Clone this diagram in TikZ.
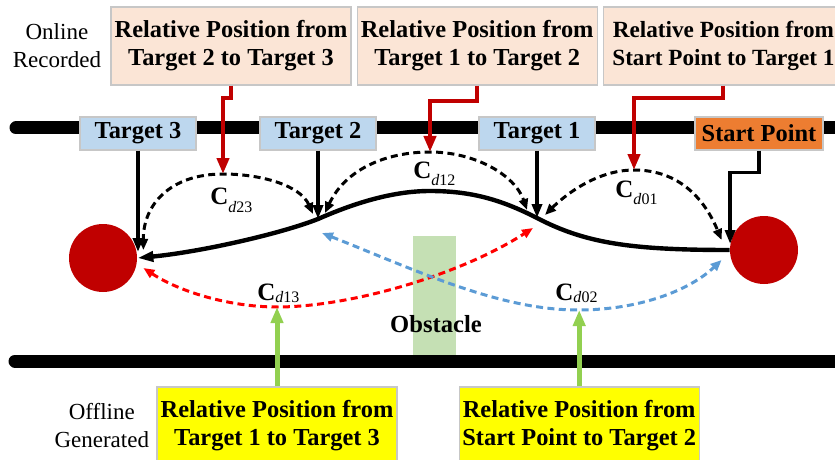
\documentclass[tikz,border=0pt]{standalone}
\usepackage{fontspec}
\setmainfont{Liberation Serif}
\usetikzlibrary{positioning,calc,arrows.meta}
\definecolor{peach}{HTML}{FBE5D6}
\definecolor{skyb}{HTML}{BDD7EE}
\definecolor{orng}{HTML}{ED7D31}
\definecolor{dred}{HTML}{C00000}
\definecolor{lred}{HTML}{FF0000}
\definecolor{lblue}{HTML}{5B9BD5}
\definecolor{lgreen}{HTML}{92D050}
\definecolor{obsg}{HTML}{C5E0B4}
\definecolor{yell}{HTML}{FFFF00}
\newcommand\clab[2][3.5pt]{\textbf{C}\raisebox{-#1}{\fontsize{8}{9}\selectfont\textit{d}#2}}
\tikzset{
  rp/.style={rectangle, minimum width=120pt, minimum height=39pt, text centered, align=center, draw=black!22, line width=0.6pt, fill=peach, font=\fontsize{12.2}{14}\selectfont\bfseries, inner sep=0pt},
  gp/.style={rp, fill=yell},
  tg/.style={rectangle, minimum width=58pt, minimum height=16.5pt, text centered, draw=black!22, line width=0.6pt, fill=skyb, font=\fontsize{12.2}{14}\selectfont\bfseries, inner sep=0pt},
  sp/.style={tg, minimum width=64pt, fill=orng},
  wh/.style={circle, minimum size=34pt, fill=dred, inner sep=0pt},
  obst/.style={rectangle, minimum width=21.5pt, minimum height=59.5pt, fill=obsg, inner sep=0pt},
  side/.style={align=center, font=\fontsize{11.5}{14}\selectfont, inner sep=0pt},
  cdl/.style={anchor=base west, inner sep=0pt, font=\fontsize{12.5}{14}\selectfont},
  road/.style={line width=6.5pt, line cap=round},
  traj/.style={line width=2.2pt, -{Triangle[length=8pt,width=5pt]}},
  bar/.style={line width=1.8pt, -{Triangle[length=7pt,width=5pt]}},
  rar/.style={draw=dred, line width=2pt, -{Triangle[length=8pt,width=6pt]}},
  gar/.style={draw=lgreen, line width=2.5pt, -{Triangle[length=8pt,width=6pt]}},
  dsh/.style={line width=1.5pt, dash pattern=on 3.5pt off 2.2pt, {Triangle[length=5.5pt,width=4.5pt]}-{Triangle[length=5.5pt,width=4.5pt]}}
}

\begin{document}
\begin{tikzpicture}[x=0.5pt, y=-0.5pt]
	\useasboundingbox (0,0) rectangle (835,460);
	\draw[road] (16,128) -- (850,128);
	\draw[road] (15,361) -- (850,361);
	\node[obst] (obs) at (434.5,295.5) {};
	\node[wh] (cl) at (103,258) {};
	\node[wh] (cr) at (764,250) {};
	%
	\node[rp] (ra) at (231,46) {Relative Position from\\Target 2 to Target 3};
	\node[rp, right=2.5pt of ra] (rb) {Relative Position from\\Target 1 to Target 2};
	\node[rp, right=2.5pt of rb, font=\fontsize{11.6}{14}\selectfont\bfseries] (rc) {Relative Position from\\Start Point to Target 1};
	\node[side, left=4.5pt of ra] (onl) {Online\\Recorded};
	\node[gp] (gd) at (277,426) {Relative Position from\\Target 1 to Target 3};
	\node[gp, right=30.5pt of gd] (ge) {Relative Position from\\Start Point to Target 2};
	\node[side, left=3.5pt of gd] (ofl) {Offline\\Generated};
	%
	\node[tg] (t3) at (138,133.5) {Target 3};
	\node[tg] (t2) at (318,133.5) {Target 2};
	\node[tg] (t1) at (537,133.5) {Target 1};
	\node[sp] (st) at (759,133.5) {Start Point};
	%
	\coordinate (t2pt) at (318,219);
	\coordinate (t1pt) at (537,218);
	\coordinate (crest) at (430,191);
	\coordinate (k23) at (223,174);
	\coordinate (k12) at (430,152);
	\coordinate (k01) at (634,170);
	\coordinate (k13) at (277,307);
	\coordinate (k02) at (578,310);
	%
	\draw[dsh] ($(t2pt)+(-5,-5)$) .. controls (300,185) and (260,174) .. (k23) .. controls (170,174) and (143,205) .. ($(cl.east)+(6,-8)$);
	\draw[dsh] ($(t2pt)+(7,-6)$) .. controls (345,170) and (385,152) .. (k12) .. controls (475,152) and (515,175) .. ($(t1pt)+(-10,-8)$);
	\draw[dsh] ($(t1pt)+(8,-3)$) .. controls (555,205) and (590,170) .. (k01) .. controls (680,170) and (705,200) .. ($(cr.west)+(-8,-10)$);
	\draw[dsh, lred] ($(cl.east)+(6,10)$) .. controls (180,292) and (230,307) .. (k13) .. controls (350,307) and (460,275) .. ($(t1pt)+(-4,10)$);
	\draw[dsh, lblue] ($(t2pt)+(4,14)$) .. controls (420,272) and (500,310) .. (k02) .. controls (640,310) and (690,290) .. ($(cr.west)+(-8,10)$);
	%
	\draw[traj] (cr.west) .. controls (630,250) and (585,243) .. (t1pt)
		.. controls (500,199) and (470,191) .. (crest)
		.. controls (390,191) and (350,205) .. (t2pt)
		.. controls (280,234) and (200,252) .. (cl.east);
	\draw[bar] (t3) -- (t3 |- cl.10);
	\draw[bar] (t2) -- (t2pt);
	\draw[bar] (t1) -- (t1pt);
	\draw[bar] (st.south) -- ++(0,22) -| (cr.170);
	%
	\draw[rar] (ra.south) -- ++(0,12) -| (k23);
	\draw[rar] (rb.south) -- ++(0,15) -| (k12);
	\draw[rar] (rc.south) -- ++(0,12) -| (k01);
	\draw[gar] (gd) -- (k13);
	\draw[gar] (ge) -- (ge |- k02);
	%
	\node[cdl] at (210,205) {\clab{23}};
	\node[cdl] at (413,178) {\clab{12}};
	\node[cdl] at (615,197) {\clab{01}};
	\node[cdl] at (257,300) {\clab[1pt]{13}};
	\node[cdl] at (555,300) {\clab[1pt]{02}};
	\node[anchor=base, inner sep=0pt, font=\fontsize{12.3}{14}\selectfont\bfseries] at (436,332) {Obstacle};
\end{tikzpicture}
\end{document}
